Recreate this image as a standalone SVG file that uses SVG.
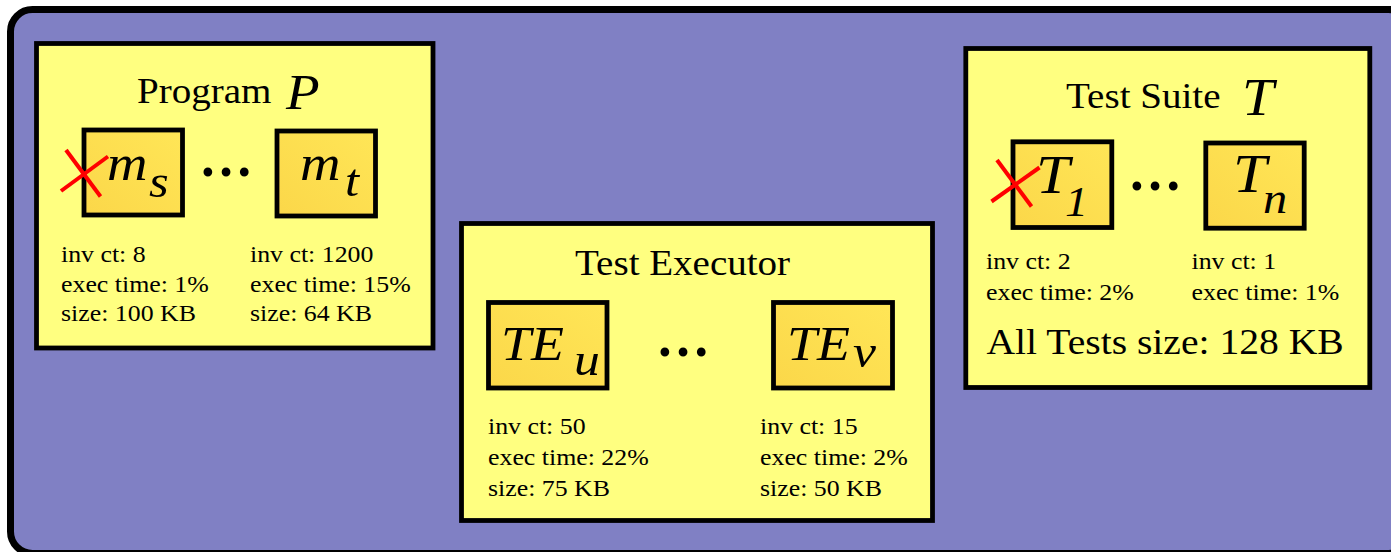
<svg xmlns="http://www.w3.org/2000/svg" width="1391" height="552" viewBox="0 0 1391 552">
  <defs>
    <linearGradient id="cell" x1="0" y1="1" x2="1" y2="0">
      <stop offset="0" stop-color="#fbd749"/>
      <stop offset="1" stop-color="#ffe657"/>
    </linearGradient>
    <style>
      .frame { fill: #8080c4; stroke: #000; stroke-width: 7; }
      .panel { fill: #ffff80; stroke: #000; stroke-width: 4.8; }
      .cell { fill: url(#cell); stroke: #000; stroke-width: 4.8; }
      text { font-family: "Liberation Serif", "Times New Roman", serif; fill: #000; }
      .title { font-size: 35.5px; }
      .math { font-style: italic; }
      .info { font-size: 23.5px; }
      .big { font-size: 36px; }
      .dots { font-size: 54px; font-weight: bold; text-anchor: middle; }
      .cross { stroke: #ff0000; stroke-width: 4; stroke-linecap: butt; }
    </style>
  </defs>

  <!-- background frame -->
  <rect class="frame" x="10.5" y="9.5" width="1400" height="544" rx="22"/>

  <!-- Program P -->
  <g id="program">
    <rect class="panel" x="36.5" y="43.5" width="396.5" height="304.5"/>
    <text class="title" transform="matrix(1.1 0 0 1 137 103)">Program</text>
    <text class="math" font-size="50" transform="matrix(1.1 0 0 1 286 109)">P</text>
    <g id="m_s">
      <rect class="cell" x="84" y="130" width="98.5" height="85"/>
      <text class="math" font-size="51" transform="matrix(1.1 0 0 1 107 180)">m</text>
      <text class="math" font-size="46" transform="matrix(1.1 0 0 1 149 197)">s</text>
      <line class="cross" x1="61" y1="191" x2="108" y2="156.5"/>
      <line class="cross" x1="66" y1="150" x2="100.5" y2="196.5"/>
    </g>
    <text class="dots" x="226" y="176">…</text>
    <g id="m_t">
      <rect class="cell" x="277" y="131" width="98.5" height="85"/>
      <text class="math" font-size="51" transform="matrix(1.1 0 0 1 300 180)">m</text>
      <text class="math" font-size="46" transform="matrix(1.1 0 0 1 345 196)">t</text>
    </g>
    <text class="info" transform="matrix(1.1 0 0 1 61 262)">inv ct: 8</text>
    <text class="info" transform="matrix(1.1 0 0 1 61 291.5)">exec time: 1%</text>
    <text class="info" transform="matrix(1.1 0 0 1 61 321)">size: 100 KB</text>
    <text class="info" transform="matrix(1.1 0 0 1 250 262)">inv ct: 1200</text>
    <text class="info" transform="matrix(1.1 0 0 1 250 291.5)">exec time: 15%</text>
    <text class="info" transform="matrix(1.1 0 0 1 250 321)">size: 64 KB</text>
  </g>

  <!-- Test Executor -->
  <g id="executor">
    <rect class="panel" x="461.5" y="223.5" width="471" height="297"/>
    <text class="title" transform="matrix(1.1 0 0 1 575 275)">Test Executor</text>
    <g id="te_u">
      <rect class="cell" x="488.5" y="302.5" width="118.5" height="85.5"/>
      <text class="math" font-size="49" transform="matrix(1.1 0 0 1 501 360)">TE</text>
      <text class="math" font-size="47" transform="matrix(1.1 0 0 1 574 375)">u</text>
    </g>
    <text class="dots" x="683" y="356">…</text>
    <g id="te_v">
      <rect class="cell" x="773.5" y="302.5" width="119" height="85.5"/>
      <text class="math" font-size="49" transform="matrix(1.1 0 0 1 787 360)">TE</text>
      <text class="math" font-size="47" transform="matrix(1.1 0 0 1 853 367)">v</text>
    </g>
    <text class="info" transform="matrix(1.1 0 0 1 488 434)">inv ct: 50</text>
    <text class="info" transform="matrix(1.1 0 0 1 488 465)">exec time: 22%</text>
    <text class="info" transform="matrix(1.1 0 0 1 488 496)">size: 75 KB</text>
    <text class="info" transform="matrix(1.1 0 0 1 760 434)">inv ct: 15</text>
    <text class="info" transform="matrix(1.1 0 0 1 760 465)">exec time: 2%</text>
    <text class="info" transform="matrix(1.1 0 0 1 760 496)">size: 50 KB</text>
  </g>

  <!-- Test Suite T -->
  <g id="suite">
    <rect class="panel" x="965.8" y="48.5" width="404" height="339"/>
    <text class="title" transform="matrix(1.1 0 0 1 1066 107.5)">Test Suite</text>
    <text class="math" font-size="52" transform="matrix(1.1 0 0 1 1242 115)">T</text>
    <g id="t_1">
      <rect class="cell" x="1013" y="141.8" width="98.8" height="85.7"/>
      <text class="math" font-size="55" transform="matrix(1.1 0 0 1 1036 193)">T</text>
      <text class="math" font-size="42" transform="matrix(1.1 0 0 1 1065 216)">1</text>
      <line class="cross" x1="991.5" y1="201.5" x2="1039.5" y2="167.5"/>
      <line class="cross" x1="997" y1="160" x2="1031.5" y2="206.5"/>
    </g>
    <text class="dots" x="1155" y="189.5">…</text>
    <g id="t_n">
      <rect class="cell" x="1205.8" y="143" width="98.4" height="85.2"/>
      <text class="math" font-size="55" transform="matrix(1.1 0 0 1 1233 192)">T</text>
      <text class="math" font-size="44" transform="matrix(1.1 0 0 1 1263 213)">n</text>
    </g>
    <text class="info" transform="matrix(1.1 0 0 1 986 268.5)">inv ct: 2</text>
    <text class="info" transform="matrix(1.1 0 0 1 986 299.5)">exec time: 2%</text>
    <text class="info" transform="matrix(1.1 0 0 1 1191.5 268.5)">inv ct: 1</text>
    <text class="info" transform="matrix(1.1 0 0 1 1191.5 299.5)">exec time: 1%</text>
    <text class="big" transform="matrix(1.1 0 0 1 986.5 354)">All Tests size: 128 KB</text>
  </g>

  <!-- no connectors in this figure -->
  <g id="connectors"/>
</svg>
